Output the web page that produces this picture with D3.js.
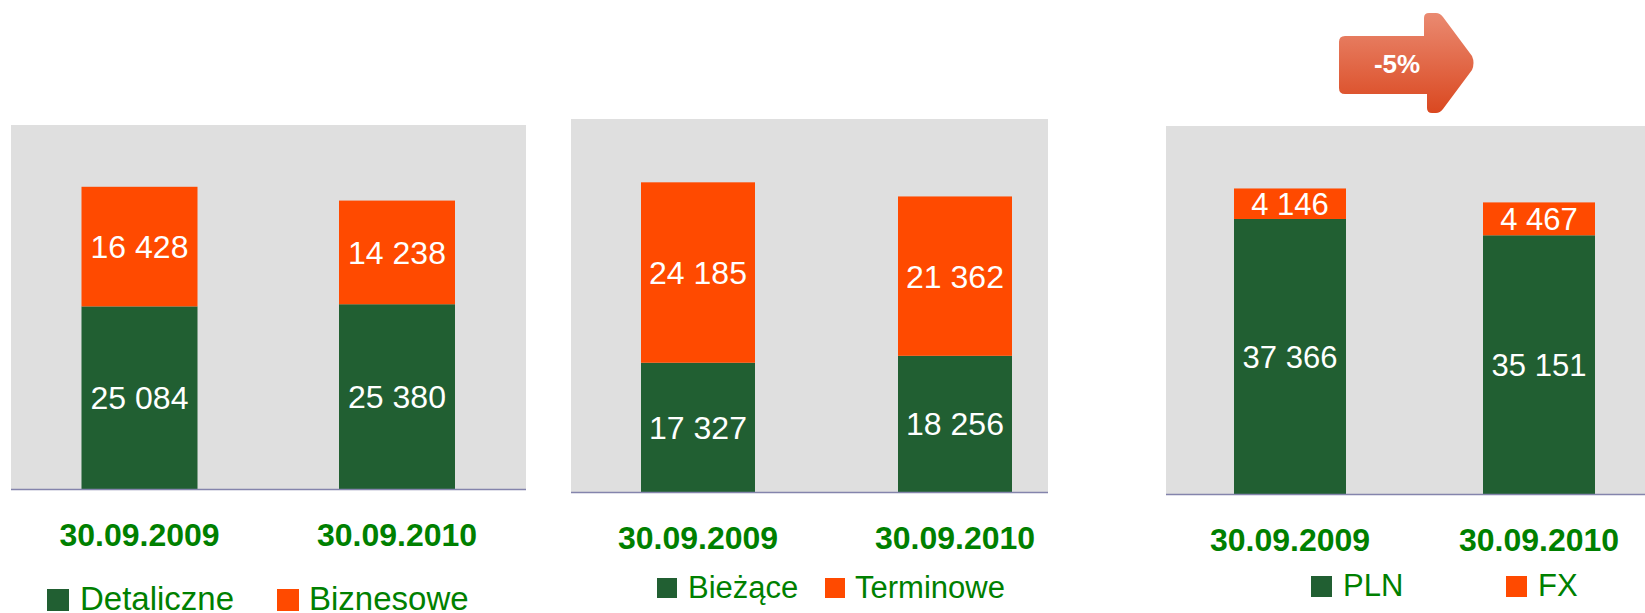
<!DOCTYPE html>
<html>
<head>
<meta charset="utf-8">
<script src="https://cdn.jsdelivr.net/npm/d3@7"></script>
<style>
  body { margin: 0; background: #fff; }
  text { font-family: Arial, "Liberation Sans", sans-serif; }
</style>
</head>
<body>
<script>
// data
var categories = ["30.09.2009", "30.09.2010"];

var detaliczne = [25084, 25380];
var biznesowe = [16428, 14238];

var biezace = [17327, 18256];
var terminowe = [24185, 21362];

var pln = [37366, 35151];
var fx = [4146, 4467];

var seriesNames1 = ["Detaliczne", "Biznesowe"];
var seriesNames2 = ["Bieżące", "Terminowe"];
var seriesNames3 = ["PLN", "FX"];

var changeLabel = "-5%";

var yMax = 50000;

var green = "#215F32";
var orange = "#FF4A00";
var labelGreen = "#008000";

var svgWidth = 1645;
var svgHeight = 613;

var svg = d3.select("body").append("svg").attr("width", svgWidth).attr("height", svgHeight);

// number format with space as thousands separator
var fmt = d3.formatLocale({decimal: ",", thousands: " ", grouping: [3], currency: ["", ""]}).format(",d");

// panel layout (positions only)
var panels = [
  {bottom: detaliczne, top: biznesowe, names: seriesNames1,
   bg: [11, 526], plotTop: 125, base: 489, c: [139.5, 397], bw: 116, labelFont: 32,
   legend: {sq: [47, 277], tx: [80, 309], sqY: 589, size: 22, baseline: 610, font: 33}},
  {bottom: biezace, top: terminowe, names: seriesNames2,
   bg: [571, 1048], plotTop: 119, base: 492, c: [698, 955], bw: 114, labelFont: 32,
   legend: {sq: [657, 825], tx: [688, 855], sqY: 578, size: 20, baseline: 598, font: 31}},
  {bottom: pln, top: fx, names: seriesNames3,
   bg: [1166, 1645], plotTop: 126, base: 494, c: [1290, 1539], bw: 112, labelFont: 31,
   legend: {sq: [1311, 1506], tx: [1343, 1538], sqY: 576, size: 21, baseline: 596, font: 31}}
];

panels.forEach(function(p) {
  var step = p.c[1] - p.c[0];
  var pad = 1 - p.bw / step;

  var x = d3.scaleBand()
    .domain(categories)
    .range([p.c[0] - step / 2, p.c[1] + step / 2])
    .paddingInner(pad)
    .paddingOuter(pad / 2);

  var y = d3.scaleLinear().domain([0, yMax]).range([p.base, p.plotTop]);

  var g = svg.append("g");

  // gray plot area
  g.append("rect")
    .attr("x", p.bg[0])
    .attr("y", y(yMax))
    .attr("width", p.bg[1] - p.bg[0])
    .attr("height", y(0) - y(yMax))
    .attr("fill", "#DFDFDF");

  var rows = categories.map(function(c, i) {
    return {cat: c, b: p.bottom[i], t: p.top[i]};
  });

  // bottom segment
  g.selectAll(".bot")
    .data(rows)
    .enter().append("rect")
    .attr("class", "bot")
    .attr("x", function(d) { return x(d.cat); })
    .attr("y", function(d) { return y(d.b); })
    .attr("width", x.bandwidth())
    .attr("height", function(d) { return y(0) - y(d.b); })
    .attr("fill", green);

  // top segment
  g.selectAll(".topseg")
    .data(rows)
    .enter().append("rect")
    .attr("class", "topseg")
    .attr("x", function(d) { return x(d.cat); })
    .attr("y", function(d) { return y(d.b + d.t); })
    .attr("width", x.bandwidth())
    .attr("height", function(d) { return y(d.b) - y(d.b + d.t); })
    .attr("fill", orange);

  // baseline
  g.append("line")
    .attr("x1", p.bg[0])
    .attr("x2", p.bg[1])
    .attr("y1", y(0) + 0.5)
    .attr("y2", y(0) + 0.5)
    .attr("stroke", "#8484AC")
    .attr("stroke-width", 1.5);

  // value labels
  g.selectAll(".lblb")
    .data(rows)
    .enter().append("text")
    .attr("x", function(d) { return x(d.cat) + x.bandwidth() / 2; })
    .attr("y", function(d) { return (y(0) + y(d.b)) / 2; })
    .attr("dy", "0.36em")
    .attr("text-anchor", "middle")
    .attr("fill", "#fff")
    .style("font-size", p.labelFont + "px")
    .text(function(d) { return fmt(d.b); });

  g.selectAll(".lblt")
    .data(rows)
    .enter().append("text")
    .attr("x", function(d) { return x(d.cat) + x.bandwidth() / 2; })
    .attr("y", function(d) { return (y(d.b) + y(d.b + d.t)) / 2; })
    .attr("dy", "0.36em")
    .attr("text-anchor", "middle")
    .attr("fill", "#fff")
    .style("font-size", p.labelFont + "px")
    .text(function(d) { return fmt(d.t); });

  // category labels
  g.selectAll(".cat")
    .data(categories)
    .enter().append("text")
    .attr("x", function(d) { return x(d) + x.bandwidth() / 2; })
    .attr("y", y(0) + 57)
    .attr("text-anchor", "middle")
    .attr("fill", labelGreen)
    .style("font-size", "32px")
    .style("font-weight", "bold")
    .text(function(d) { return d; });

  // legend
  var colors = [green, orange];
  p.names.forEach(function(n, i) {
    g.append("rect")
      .attr("x", p.legend.sq[i])
      .attr("y", p.legend.sqY)
      .attr("width", p.legend.size)
      .attr("height", p.legend.size)
      .attr("fill", colors[i]);
    g.append("text")
      .attr("x", p.legend.tx[i])
      .attr("y", p.legend.baseline)
      .attr("fill", labelGreen)
      .style("font-size", p.legend.font + "px")
      .text(n);
  });
});

// arrow with change
var defs = svg.append("defs");
var grad = defs.append("linearGradient").attr("id", "arrowGrad")
  .attr("x1", 0).attr("y1", 0).attr("x2", 0).attr("y2", 1);
grad.append("stop").attr("offset", "0%").attr("stop-color", "#EA8A71");
grad.append("stop").attr("offset", "100%").attr("stop-color", "#DA4820");

var arrow = svg.append("g").attr("transform", "translate(1339,13)");
arrow.append("path")
  .attr("d", "M6,23 L85,23 L85,5 Q85,0 90,0 L97,0 Q101,0 104,4 L133,43 Q136,50 133,57 " +
             "L104,96 Q101,100 97,100 L93,100 Q88,100 88,95 L88,81 L6,81 Q0,81 0,75 L0,29 Q0,23 6,23 Z")
  .attr("fill", "url(#arrowGrad)");
arrow.append("text")
  .attr("x", 58)
  .attr("y", 51)
  .attr("dy", "0.36em")
  .attr("text-anchor", "middle")
  .attr("fill", "#fff")
  .style("font-size", "26px")
  .style("font-weight", "bold")
  .text(changeLabel);
</script>
</body>
</html>
